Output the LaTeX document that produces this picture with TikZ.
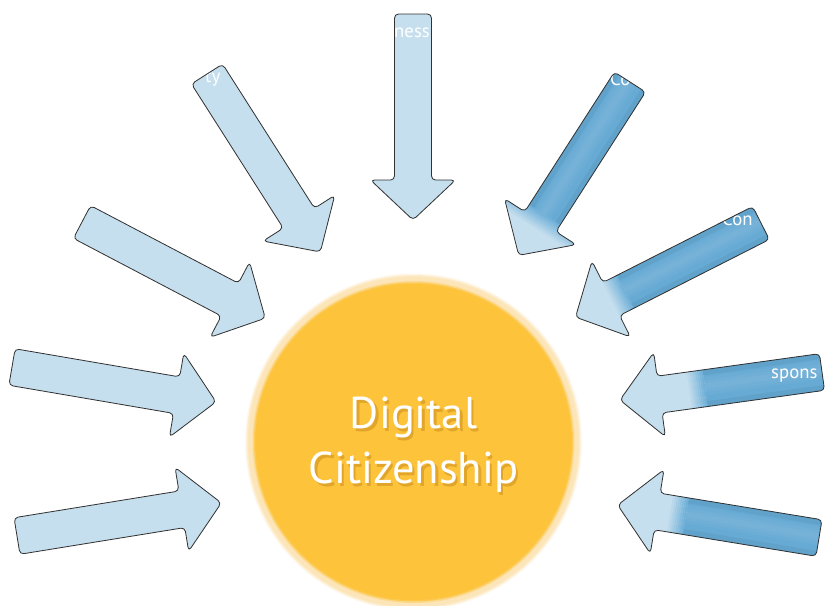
\documentclass[tikz,border=0pt]{standalone}
\usepackage{fontspec}
\setmainfont{PT Sans}
\definecolor{armlight}{RGB}{198,223,238}
\definecolor{armblue}{RGB}{103,171,213}
\definecolor{armline}{RGB}{50,50,50}
\definecolor{sunfill}{RGB}{253,195,58}
\definecolor{sunglow}{RGB}{252,229,184}
\definecolor{sunshadow}{RGB}{170,110,15}
\newcommand{\armshape}[1]{(0,-18.5) -- ({#1-40},-18.5) -- ({#1-40},-42.5) -- (#1,0) -- ({#1-40},42.5) -- ({#1-40},18.5) -- (0,18.5) -- cycle}
% tail x / tail y / angle / length / where the blue ends (0 = pale arrow)
\def\armlist{413/14/-90/206/0, 207/74/-57.5/211/0, 82/222/-27.7/207/0, 12/367/-9.7/207/0, 17/536/9.2/207/0,
  630/82/-122.7/206/158, 761/223/-153.1/208/152, 822/372/-172.1/204/118, 819/538/170.7/204/135}
\begin{document}
\begin{tikzpicture}[x=0.03cm, y=-0.03cm, line join=round, line cap=round,
    arm/.style={rounded corners=1.2mm},
    armedge/.style={draw=armline, line width=0.7pt, rounded corners=1.2mm},
    fragment/.style={anchor=base west, inner sep=0pt, text=white, font=\fontsize{16}{19}\selectfont},
    sunlabel/.style={anchor=base, inner sep=0pt, font=\fontsize{38}{46}\selectfont}]
  \useasboundingbox (0,0) rectangle (826,606);
  \path (413.5,442) coordinate (hub);
  \foreach \r/\o in {168.5/0.3, 167/0.6, 165.5/1} \fill[sunglow, opacity=\o] (hub) circle (\r);
  \foreach \r/\o in {161/0.35, 159.5/0.7, 158/1} \fill[sunfill, opacity=\o] (hub) circle (\r);
  \node[sunlabel, text=sunshadow, opacity=0.35] (dshadow) at (416,431) {Digital};
  \node[sunlabel, text=sunshadow, opacity=0.35] (cshadow) at (416,486) {Citizenship};
  \node[sunlabel, text=white] (digital) at (413.5,428) {Digital};
  \node[sunlabel, text=white] (citizenship) at (413.5,483) {Citizenship};
  \foreach \tx/\ty/\ang/\len/\cut in \armlist {
    \begin{scope}[shift={(\tx,\ty)}, rotate=\ang]
      \fill[armlight, arm] \armshape{\len};
      \ifnum\cut>0
        \begin{scope}
          \clip[arm] \armshape{\len};
          \fill[armblue] (-5,-50) rectangle (\cut,50);
          \foreach \k [evaluate=\k as \pct using {int(100-11*\k)}] in {1,...,8}
            \fill[armblue!\pct!armlight] ({\cut+2*\k-2.2},-50) rectangle ({\cut+2*\k},50);
          \foreach \w in {3,6,9} \fill[white, opacity=0.035] (-5,{2-\w}) rectangle (\cut,{2+\w});
          \fill[black, opacity=0.05] (-5,-18.5) rectangle (\cut,-13);
          \fill[black, opacity=0.05] (-5,13) rectangle (\cut,18.5);
        \end{scope}
      \fi
    \end{scope}}
  \node[fragment] (ness) at (394,37) {ness};
  \node[fragment] (ty) at (205,82) {ty};
  \node[fragment] (co) at (610,85) {Co};
  \node[fragment] (con) at (722,225) {Con};
  \node[fragment] (spons) at (771,378) {spons};
  \foreach \tx/\ty/\ang/\len/\cut in \armlist
    \draw[armedge, shift={(\tx,\ty)}, rotate=\ang] \armshape{\len};
\end{tikzpicture}
\end{document}
